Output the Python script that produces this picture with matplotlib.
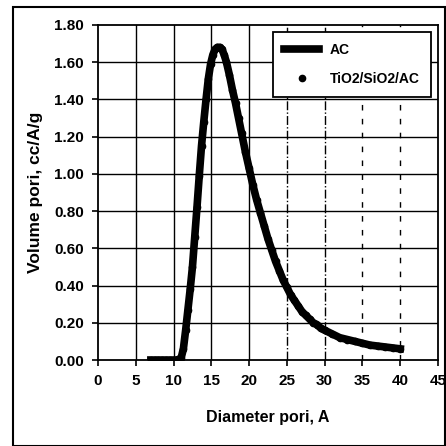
import matplotlib
matplotlib.use("Agg")
import matplotlib.pyplot as plt
from matplotlib.patches import Rectangle

# ---------- DATA ----------
diameter = [7.0, 7.5, 8.0, 8.5, 9.0, 9.5, 10.0, 10.5, 11.0, 11.3, 11.6, 11.9,
            12.2, 12.5, 12.8, 13.1, 13.4, 13.7, 14.0, 14.3, 14.6, 14.9, 15.2,
            15.5, 15.8, 16.1, 16.4, 16.7, 17.0, 17.4, 17.8, 18.2, 18.6, 19.0,
            19.5, 20.0, 20.5, 21.0, 21.5, 22.0, 22.5, 23.0, 23.5, 24.0, 24.5,
            25.0, 25.5, 26.0, 26.5, 27.0, 27.5, 28.0, 28.5, 29.0, 29.5, 30.0,
            31.0, 32.0, 33.0, 34.0, 35.0, 36.0, 37.0, 38.0, 39.0, 40.0]
vol_ac = [0.0, 0.0, 0.0, 0.0, 0.0, 0.0, 0.0, 0.0, 0.01, 0.06, 0.16, 0.27,
          0.38, 0.50, 0.66, 0.82, 0.99, 1.15, 1.28, 1.40, 1.51, 1.59, 1.64,
          1.67, 1.68, 1.68, 1.67, 1.64, 1.60, 1.53, 1.45, 1.38, 1.30, 1.22,
          1.12, 1.03, 0.94, 0.86, 0.79, 0.72, 0.65, 0.59, 0.53, 0.48, 0.43,
          0.39, 0.35, 0.32, 0.29, 0.26, 0.24, 0.22, 0.20, 0.19, 0.17, 0.16,
          0.14, 0.12, 0.11, 0.10, 0.09, 0.08, 0.075, 0.07, 0.065, 0.06]
vol_tio2 = [0.0, 0.0, 0.0, 0.0, 0.0, 0.0, 0.0, 0.0, 0.01, 0.06, 0.16, 0.27,
            0.38, 0.50, 0.66, 0.82, 0.99, 1.15, 1.28, 1.40, 1.51, 1.59, 1.64,
            1.67, 1.68, 1.68, 1.67, 1.64, 1.60, 1.53, 1.45, 1.38, 1.30, 1.22,
            1.12, 1.03, 0.94, 0.86, 0.79, 0.72, 0.65, 0.59, 0.53, 0.48, 0.43,
            0.39, 0.35, 0.32, 0.29, 0.26, 0.24, 0.22, 0.20, 0.19, 0.17, 0.16,
            0.14, 0.12, 0.11, 0.10, 0.09, 0.08, 0.075, 0.07, 0.065, 0.06]

x_ticks = [0, 5, 10, 15, 20, 25, 30, 35, 40, 45]
y_ticks = [0.0, 0.2, 0.4, 0.6, 0.8, 1.0, 1.2, 1.4, 1.6, 1.8]

plt.rcParams['font.family'] = ['Liberation Sans Narrow', 'Liberation Sans', 'DejaVu Sans']
plt.rcParams['font.weight'] = 'bold'

# ---------- PLOT SETUP ----------
fig = plt.figure(figsize=(4.46, 4.46), dpi=100)
ax = fig.add_axes([98/446, 1 - 360/446, 340/446, 335/446])

# outer frame of the scanned figure
fig.patches.append(Rectangle((13/446, 0.0), 432/446, 1 - 7/446, transform=fig.transFigure,
                             fill=False, edgecolor='black', linewidth=1.5))

# grid lines, scanned look: solid on the left, broken further right
for xv in x_ticks[1:-1]:
    ls = '-' if xv <= 20 else ('-.' if xv <= 30 else (0, (4, 6)))
    ax.axvline(xv, color='black', linewidth=1.0, linestyle=ls, zorder=1)
for yv in y_ticks[1:-1]:
    ax.axhline(yv, color='black', linewidth=1.0, linestyle='-', zorder=1)

ax.plot(diameter, vol_ac, color='black', linewidth=5.5, label='AC', zorder=3)
ax.plot(diameter, vol_tio2, linestyle='none', marker='o', markersize=4.5,
        color='black', label='TiO2/SiO2/AC', zorder=4)

ax.set_xlim(0, 45)
ax.set_ylim(0, 1.8)
ax.set_xticks(x_ticks)
ax.set_yticks(y_ticks)
ax.set_yticklabels([f"{v:.2f}" for v in y_ticks])
ax.tick_params(labelsize=11, length=4, width=1.2, pad=6)
for s in ax.spines.values():
    s.set_linewidth(1.3)

ax.set_xlabel("Diameter pori, A", fontsize=11.5, fontweight='bold', labelpad=16)
ax.set_ylabel("Volume pori, cc/A/g", fontsize=12.5, fontweight='bold', labelpad=8)

leg = ax.legend(loc='upper right', fontsize=10, frameon=True, fancybox=False,
                edgecolor='black', framealpha=1, borderaxespad=0.5, handlelength=2.5,
                borderpad=0.8, labelspacing=1.1)
leg.get_frame().set_linewidth(1.3)
leg.set_zorder(10)

fig.savefig("out.png", dpi=100)
